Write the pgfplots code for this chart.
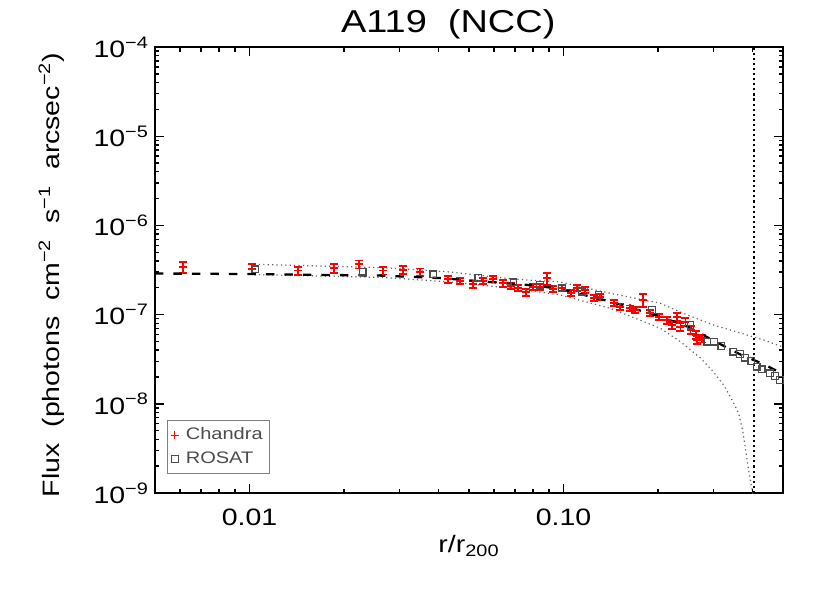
\documentclass[border=0pt]{standalone}
\usepackage{pgfplots}
\pgfplotsset{compat=1.18}
\usepackage{fontspec}
\setmainfont{Liberation Sans}[FakeStretch=1.2, WordSpace=2]
\begin{document}
\begin{tikzpicture}
\path[use as bounding box] (-3.1,-2.0) rectangle (13.5,9.86);
\begin{axis}[
  at={(0,0)}, anchor=south west,
  scale only axis, width=12.56cm, height=8.92cm,
  xmode=log, ymode=log, log basis x=10, log basis y=10,
  xmin=0.005, xmax=0.5, ymin=1e-9, ymax=1e-4,
  axis line style={line width=1pt},
  every tick/.style={black, line width=0.8pt},
  major tick length=0.18cm, minor tick length=0.09cm,
  tick align=inside,
  tick label style={font=\fontsize{13.5}{16}\selectfont},
  xticklabel={\pgfmathparse{10^\tick}\pgfmathprintnumber[fixed,fixed zerofill,precision=2,assume math mode=true]{\pgfmathresult}},
  yticklabel={\pgfmathparse{int(round(-\tick))}10\textsuperscript{−\pgfmathresult}},
  xticklabel style={yshift=-0.2cm},
  xlabel={r/r\textsubscript{200}},
  ylabel={Flux (photons cm\textsuperscript{−2} s\textsuperscript{−1} arcsec\textsuperscript{−2})},
  label style={font=\fontsize{13.5}{16}\selectfont},
  x label style={at={(axis description cs:0.5,-0.119)}, anchor=center},
  y label style={at={(axis description cs:-0.165,0.489)}, anchor=center},
  title={A119 (NCC)},
  every axis title shift=0pt,
  title style={font=\fontsize{18}{20}\selectfont, at={(axis description cs:0.467,1.052)}, anchor=center},
  legend style={at={(axis description cs:0.019,0.043)}, anchor=south west,
    draw=black!50, font=\fontsize{9.5}{11.5}\selectfont, text=black!70,
    inner xsep=2pt, inner ysep=2pt, row sep=1.5pt},
  legend cell align=left,
]

% uncertainty envelopes (dotted)
\addplot[black!60, line width=0.7pt, dash pattern=on 0.7pt off 1.8pt, forget plot] coordinates {
  (0.01037,3.664e-7) (0.02697,3.356e-7) (0.04254,3.026e-7) (0.06909,2.506e-7)
  (0.0976,2.320e-7) (0.141,1.733e-7) (0.2035,1.339e-7) (0.2482,9.897e-8)
  (0.3005,7.644e-8) (0.3664,6.218e-8) (0.4339,5.19e-8) (0.5,4.333e-8)
};
\addplot[black!60, line width=0.7pt, dash pattern=on 0.7pt off 1.8pt, forget plot] coordinates {
  (0.01037,2.816e-7) (0.02697,2.606e-7) (0.04254,2.338e-7) (0.06909,1.972e-7)
  (0.0976,1.659e-7) (0.141,1.176e-7) (0.2035,7.02e-8) (0.2358,4.967e-8)
  (0.2731,3.262e-8) (0.3005,2.272e-8) (0.3233,1.625e-8) (0.3404,1.192e-8)
  (0.3609,7.88e-9) (0.3718,5.085e-9) (0.3802,3.034e-9) (0.3886,1.81e-9)
  (0.3973,1.168e-9) (0.4032,9e-10)
};

% Chandra
\addplot[only marks, mark=+, red, mark size=0.08cm, line width=1.1pt, forget plot,
  error bars/.cd, y dir=both, y explicit relative, error mark=|,
  error bar style={red, line width=1.1pt},
  error mark options={red, mark size=0.08cm, line width=1.1pt}] coordinates {
  (0.00616,3.418e-7) +- (0,0.142)
  (0.01015,3.245e-7) +- (0,0.129)
  (0.01423,3.122e-7) +- (0,0.103)
  (0.01853,3.329e-7) +- (0,0.116)
  (0.02227,3.664e-7) +- (0,0.103)
  (0.02658,3.122e-7) +- (0,0.098)
  (0.03072,3.186e-7) +- (0,0.095)
  (0.03488,3.003e-7) +- (0,0.095)
  (0.04294,2.487e-7) +- (0,0.085)
  (0.04681,2.381e-7) +- (0,0.085)
  (0.05138,2.186e-7) +- (0,0.085)
  (0.05556,2.381e-7) +- (0,0.077)
  (0.05978,2.506e-7) +- (0,0.077)
  (0.06405,2.243e-7) +- (0,0.085)
  (0.06792,2.109e-7) +- (0,0.077)
  (0.07183,1.972e-7) +- (0,0.077)
  (0.07586,1.778e-7) +- (0,0.090)
  (0.08021,2.023e-7) +- (0,0.077)
  (0.08424,2.055e-7) +- (0,0.077)
  (0.08851,2.553e-7) +- (0,0.155)
  (0.09252,1.921e-7) +- (0,0.077)
  (0.09883,1.972e-7) +- (0,0.077)
  (0.1056,1.760e-7) +- (0,0.077)
  (0.1104,1.972e-7) +- (0,0.077)
  (0.1173,1.887e-7) +- (0,0.077)
  (0.1247,1.523e-7) +- (0,0.077)
  (0.1310,1.587e-7) +- (0,0.077)
  (0.1444,1.339e-7) +- (0,0.077)
  (0.1517,1.226e-7) +- (0,0.077)
  (0.1633,1.176e-7) +- (0,0.077)
  (0.1694,1.126e-7) +- (0,0.077)
  (0.1792,1.458e-7) +- (0,0.155)
  (0.1891,1.034e-7) +- (0,0.077)
  (0.2010,9.473e-8) +- (0,0.077)
  (0.2138,8.70e-8) +- (0,0.090)
  (0.2218,7.644e-8) +- (0,0.090)
  (0.2301,9.473e-8) +- (0,0.103)
  (0.2358,7.315e-8) +- (0,0.103)
  (0.2446,8.327e-8) +- (0,0.103)
  (0.2538,6.722e-8) +- (0,0.103)
  (0.2633,5.906e-8) +- (0,0.103)
  (0.2666,5.19e-8) +- (0,0.103)
  (0.2765,5.424e-8) +- (0,0.103)
};

% ROSAT
\addplot[only marks, mark=square, mark size=0.065cm, black!70, line width=0.7pt, forget plot] coordinates {
  (0.01043,3.220e-7) (0.02294,3.026e-7) (0.03847,2.830e-7) (0.05355,2.593e-7)
  (0.06925,2.302e-7) (0.08424,2.147e-7) (0.09883,2.002e-7) (0.1145,1.806e-7)
  (0.1293,1.659e-7) (0.1915,1.126e-7) (0.2538,7.644e-8) (0.2869,4.967e-8)
  (0.3012,4.967e-8) (0.3180,4.446e-8) (0.3473,3.838e-8) (0.3646,3.617e-8)
  (0.3782,3.287e-8) (0.3964,3.019e-8) (0.4122,2.606e-8) (0.4276,2.436e-8)
  (0.4545,2.197e-8) (0.4716,2.049e-8) (0.4892,1.848e-8)
};

% beta-model fit
\addplot[black, line width=1.3pt, dash pattern=on 0.17cm off 0.2cm, forget plot] coordinates {
  (0.005,2.89e-7) (0.01,2.85e-7) (0.026,2.74e-7) (0.0404,2.57e-7)
  (0.0583,2.32e-7) (0.0812,2.12e-7) (0.0976,1.94e-7) (0.141,1.40e-7)
  (0.2035,9.48e-8) (0.25,7.27e-8) (0.298,5.19e-8) (0.3637,3.61e-8)
  (0.434,2.78e-8) (0.5,2.16e-8)
};

% r500 marker
\addplot[black, line width=1.2pt, dash pattern=on 1.2pt off 1.7pt, forget plot] coordinates {
  (0.4032,1e-9) (0.4032,1e-4)
};

\addlegendimage{only marks, mark=+, red, mark size=0.08cm, line width=0.5pt}
\addlegendentry{\hspace{2pt}Chandra}
\addlegendimage{only marks, mark=square, black!70, mark size=0.07cm, line width=0.5pt}
\addlegendentry{\hspace{2pt}ROSAT}
\end{axis}
\end{tikzpicture}
\end{document}
